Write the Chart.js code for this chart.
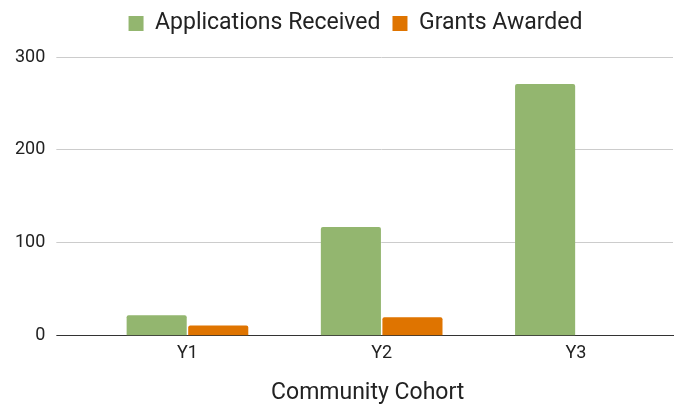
<!DOCTYPE html>
<html>
<head>
<meta charset="utf-8">
<script src="https://cdn.jsdelivr.net/npm/chart.js@4"></script>
<style>
  body { margin: 0; background: #fff; }
  #wrap { width: 677px; height: 406px; }
</style>
</head>
<body>
<div id="wrap"><canvas id="grantChart"></canvas></div>
<script>
var cohorts = ["Y1", "Y2", "Y3"];
var applicationsReceived = [22, 117, 271];
var grantsAwarded = [11, 20, 0];
var yTicks = [0, 100, 200, 300];

var ctx = document.getElementById("grantChart");

// nudge the legend and the x title, and leave more room under the legend
var layoutNudge = {
    id: 'layoutNudge',
    beforeUpdate: function(chart) {
        var lg = chart.legend;
        if (lg && !lg._extraRoom) {
            var fit = lg.fit;
            lg.fit = function() {
                fit.call(this);
                this.height += 12;
            };
            lg._extraRoom = true;
        }
    },
    afterLayout: function(chart) {
        chart.legend.left += 17;
        chart.legend.right += 17;
        var xs = chart.scales.x;
        if (xs && !xs._titleShift) {
            var drawTitle = xs.drawTitle;
            xs.drawTitle = function() {
                this.ctx.save();
                this.ctx.translate(-14, 1);
                drawTitle.call(this);
                this.ctx.restore();
            };
            xs._titleShift = true;
        }
    }
};

function lineColor(c) {
    return c.tick && c.tick.value === 0 ? '#333333' : '#cccccc';
}

new Chart(ctx, {
    type: 'bar',
    data: {
        labels: cohorts,
        datasets: [{
            label: 'Applications Received',
            data: applicationsReceived,
            backgroundColor: '#93b66f',
            borderRadius: 2,
            borderSkipped: 'bottom'
        }, {
            label: 'Grants Awarded',
            data: grantsAwarded,
            backgroundColor: '#df7400',
            borderRadius: 2,
            borderSkipped: 'bottom'
        }]
    },
    plugins: [layoutNudge],
    options: {
        responsive: true,
        maintainAspectRatio: false,
        animation: false,
        categoryPercentage: 0.634,
        barPercentage: 0.976,
        layout: { padding: { left: 4, right: 4, top: 0, bottom: 0 } },
        plugins: {
            legend: {
                position: 'top',
                labels: {
                    font: { family: 'Roboto', size: 23 },
                    color: '#222',
                    boxWidth: 15,
                    boxHeight: 15,
                    padding: 12
                }
            },
            tooltip: { enabled: false }
        },
        scales: {
            x: {
                grid: { display: false, drawTicks: false },
                border: { display: true, color: '#333', width: 1 },
                ticks: { font: { family: 'Roboto', size: 18 }, color: '#222', padding: 7 },
                title: {
                    display: true,
                    text: 'Community Cohort',
                    font: { family: 'Roboto', size: 23 },
                    color: '#222',
                    padding: { top: 7, bottom: 0 }
                }
            },
            y: {
                min: 0,
                max: 300,
                afterBuildTicks: function(axis) {
                    axis.ticks = yTicks.map(function(v) { return { value: v }; });
                },
                grid: { color: lineColor, tickColor: lineColor, drawTicks: true, tickLength: 34 },
                border: { display: false },
                ticks: { font: { family: 'Roboto', size: 18 }, color: '#222', padding: 11 }
            }
        }
    }
});
</script>
</body>
</html>
